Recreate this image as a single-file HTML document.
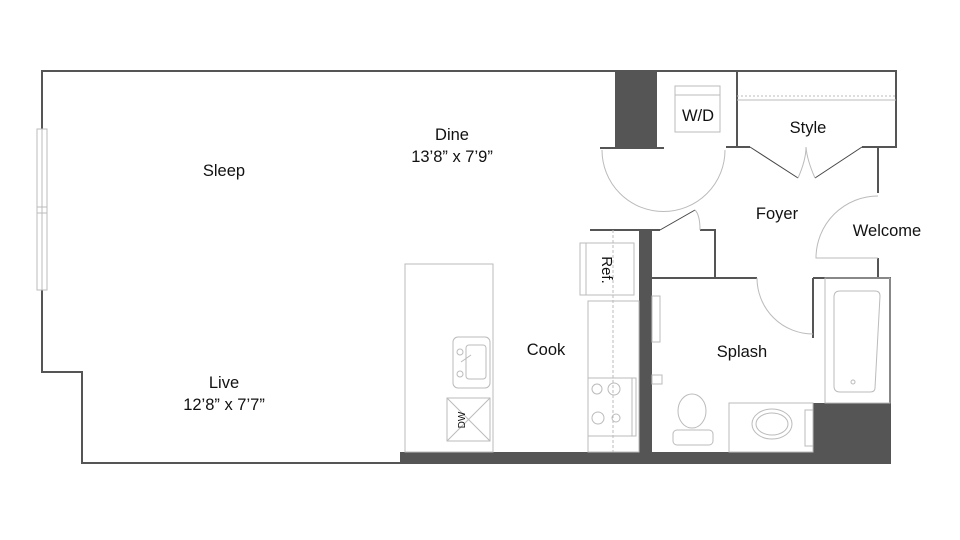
<!DOCTYPE html>
<html><head><meta charset="utf-8"><style>
html,body{margin:0;padding:0;background:#fff;}
svg{display:block;}
text{font-family:"Liberation Sans",sans-serif;font-size:16.5px;fill:#111;text-anchor:middle;}
</style></head><body>
<svg width="960" height="540" viewBox="0 0 960 540" xmlns="http://www.w3.org/2000/svg">
<g fill="none" stroke="#555" stroke-width="2">
<polyline points="42,129 42,71 896,71 896,147 878,147 878,193"/>
<polyline points="42,290 42,372 82,372 82,463 402,463"/>
<polyline points="878,258 878,278 890,278 890,464"/>
<line x1="737" y1="71" x2="737" y2="147"/>
<line x1="726" y1="147" x2="750" y2="147"/>
<line x1="862" y1="147" x2="878" y2="147"/>
<line x1="600" y1="148" x2="664" y2="148"/>
<line x1="590" y1="230" x2="660" y2="230"/>
<polyline points="700,230 715,230 715,278"/>
<line x1="652" y1="278" x2="757" y2="278"/>
<line x1="813" y1="278" x2="890" y2="278"/>
<line x1="813" y1="278" x2="813" y2="338"/>
</g>
<g fill="#555">
<rect x="615" y="71" width="42" height="77"/>
<rect x="639" y="230" width="13" height="234"/>
<rect x="400" y="452" width="490" height="12"/>
<rect x="813" y="403" width="77" height="61"/>
</g>
<g fill="none" stroke="#444" stroke-width="1">
<line x1="750" y1="147" x2="798" y2="178"/>
<line x1="862" y1="147" x2="815" y2="178"/>
<line x1="660" y1="230" x2="695" y2="210"/>
</g>
<g fill="none" stroke="#bbb" stroke-width="1">
<rect x="37" y="129" width="10" height="161"/>
<line x1="42" y1="129" x2="42" y2="290"/>
<rect x="37" y="207" width="10" height="6"/>
<line x1="737" y1="96" x2="896" y2="96" stroke-dasharray="2,2"/>
<line x1="737" y1="100" x2="896" y2="100"/>
<path d="M798,178 Q806,160 806,147"/>
<path d="M815,178 Q807,160 806,147"/>
<path d="M602,150 A61,61 0 0 0 725,150"/>
<path d="M695,210 Q700,215 700,230"/>
<path d="M757,278 A56,56 0 0 0 813,334"/>
<path d="M878,196 A62,62 0 0 0 816,258 L878,258"/>
<rect x="675" y="86" width="45" height="46"/>
<line x1="675" y1="95" x2="720" y2="95"/>
<rect x="580" y="243" width="54" height="52"/>
<line x1="586" y1="243" x2="586" y2="295"/>
<line x1="613" y1="230" x2="613" y2="452" stroke-dasharray="3,2"/>
<rect x="588" y="301" width="51" height="151"/>
<rect x="588" y="378" width="48" height="58"/>
<line x1="632" y1="378" x2="632" y2="436"/>
<circle cx="597" cy="389" r="5"/><circle cx="614" cy="389" r="6"/>
<circle cx="598" cy="418" r="6"/><circle cx="616" cy="418" r="4"/>
<rect x="405" y="264" width="88" height="188"/>
<rect x="453" y="337" width="37" height="51" rx="5"/>
<rect x="466" y="345" width="20" height="34" rx="3"/>
<circle cx="460" cy="352" r="3"/><circle cx="460" cy="374" r="3"/>
<line x1="461" y1="362" x2="471" y2="355"/>
<rect x="447" y="398" width="43" height="43"/>
<line x1="447" y1="398" x2="490" y2="441"/><line x1="490" y1="398" x2="447" y2="441"/>
<rect x="652" y="296" width="8" height="46"/>
<rect x="652" y="375" width="10" height="9"/>
<rect x="825" y="278" width="65" height="125"/>
<path d="M840,291 L875,291 Q880,291 880,296 L875,388 Q875,392 870,392 L840,392 Q834,392 834,386 L834,297 Q834,291 840,291Z"/>
<circle cx="853" cy="382" r="2"/>
<rect x="729" y="403" width="84" height="49"/>
<ellipse cx="772" cy="424" rx="20" ry="15"/>
<ellipse cx="772" cy="424" rx="16" ry="11"/>
<rect x="805" y="410" width="8" height="36"/>
<ellipse cx="692" cy="411" rx="14" ry="17"/>
<rect x="673" y="430" width="40" height="15" rx="4"/>
</g>
<text x="224" y="176">Sleep</text>
<text x="452" y="140">Dine</text>
<text x="452" y="162">13’8” x 7’9”</text>
<text x="698" y="121">W/D</text>
<text x="808" y="133">Style</text>
<text x="777" y="219">Foyer</text>
<text x="887" y="236">Welcome</text>
<text x="546" y="355">Cook</text>
<text x="742" y="357">Splash</text>
<text x="224" y="388">Live</text>
<text x="224" y="410">12’8” x 7’7”</text>
<text x="0" y="0" transform="translate(602,270) rotate(90)" style="font-size:15px">Ref.</text>
<text x="0" y="0" transform="translate(465,420) rotate(-90)" style="font-size:10px">DW</text>
</svg>
</body></html>
